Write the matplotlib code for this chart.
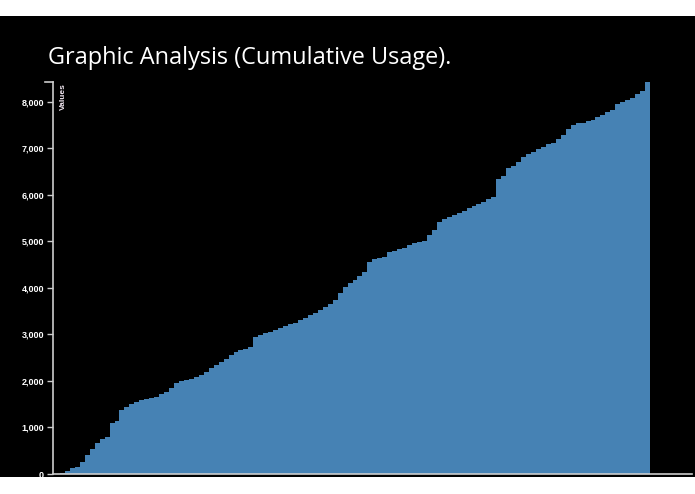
import matplotlib.pyplot as plt
from matplotlib.patches import Rectangle
from matplotlib.ticker import FuncFormatter
import numpy as np

# cumulative usage, one bar per step
cumulative = [
    0, 30, 70, 120, 150, 250, 400, 540, 660, 760,
    790, 1090, 1130, 1370, 1440, 1500, 1550, 1590, 1613, 1640,
    1660, 1720, 1765, 1850, 1955, 2000, 2022, 2050, 2086, 2130,
    2194, 2270, 2344, 2410, 2473, 2560, 2624, 2660, 2688, 2720,
    2946, 2990, 3032, 3060, 3097, 3140, 3183, 3215, 3247, 3300,
    3355, 3410, 3462, 3520, 3591, 3660, 3742, 3880, 4022, 4100,
    4172, 4260, 4344, 4559, 4624, 4645, 4667, 4760, 4790, 4830,
    4860, 4920, 4968, 4990, 5011, 5140, 5250, 5419, 5480, 5530,
    5560, 5610, 5656, 5710, 5763, 5800, 5849, 5900, 5950, 6330,
    6400, 6581, 6610, 6700, 6800, 6870, 6925, 6980, 7032, 7080,
    7118, 7200, 7290, 7400, 7505, 7530, 7548, 7580, 7613, 7670,
    7720, 7775, 7828, 7950, 8000, 8040, 8086, 8170, 8230, 8420,
]
y_ticks = [0, 1000, 2000, 3000, 4000, 5000, 6000, 7000, 8000]
title = "Graphic Analysis (Cumulative Usage)."
y_label = "Values"

W, H = 695, 494
fig = plt.figure(figsize=(W / 100, H / 100), dpi=100)
fig.patch.set_facecolor("white")
fig.patches.append(Rectangle((0, 17 / H), 1, 461 / H, transform=fig.transFigure,
                             facecolor="black", edgecolor="none", zorder=-5))

ax = fig.add_axes([53 / W, 20 / H, (692 - 53) / W, (474 - 82) / H])
ax.set_facecolor("black")

n = len(cumulative)
step = 595 / n
# one filled step outline: the bars touch, so no seams between them
ax.stairs(cumulative, np.arange(n + 1), fill=True, color="#4682b4",
          baseline=0)

ax.set_xlim((53 - 55) / step, (692 - 55) / step)
ax.set_ylim(0, max(cumulative))

for s in ["top", "right"]:
    ax.spines[s].set_visible(False)
for s in ["left", "bottom"]:
    ax.spines[s].set_color("#cccccc")
    ax.spines[s].set_linewidth(1.2)
    ax.spines[s].set_zorder(5)

ax.set_xticks([])
ax.set_yticks(y_ticks)
ax.yaxis.set_major_formatter(FuncFormatter(lambda v, p: f"{int(v):,}"))
ax.tick_params(axis="y", colors="#cccccc", length=4.5, width=1, pad=2)
for lab in ax.get_yticklabels():
    lab.set_color("white")
    lab.set_fontfamily("Liberation Sans")
    lab.set_fontweight("bold")
    lab.set_fontsize(6.5)

# outer tick at the top of the y axis
ax.plot([-0.012, 0], [1, 1], transform=ax.transAxes, color="#cccccc",
        lw=1.2, clip_on=False)

ax.text(0.011, 0.998, y_label, transform=ax.transAxes, rotation=90,
        ha="left", va="top", color="#f0e6f0", fontsize=6,
        fontweight="bold", family="Liberation Sans")

fig.text(48 / W, 1 - 64 / H, title, color="white", fontsize=16.9,
         family="Open Sans", ha="left", va="baseline")

fig.savefig("out.png", dpi=100, facecolor=fig.get_facecolor())
